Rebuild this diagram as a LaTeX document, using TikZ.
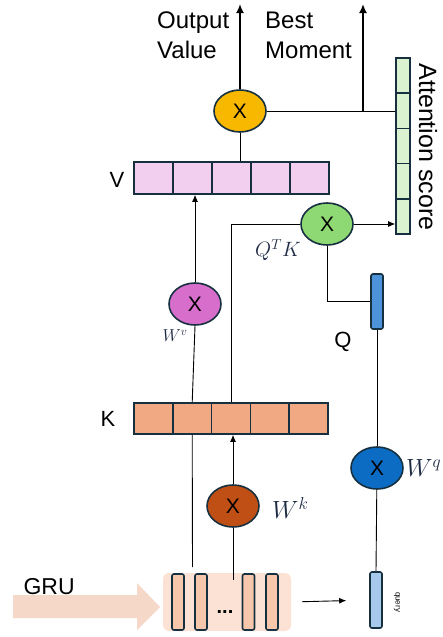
\documentclass[tikz,border=0pt]{standalone}
\usepackage{fontspec}
\setmainfont{Liberation Sans}
\usetikzlibrary{shapes.geometric, arrows.meta}

\definecolor{edge}{HTML}{17303F}
\definecolor{mathc}{HTML}{1E2A44}
\definecolor{goldX}{HTML}{F9B800}
\definecolor{greenX}{HTML}{8ED973}
\definecolor{pinkX}{HTML}{D86ECC}
\definecolor{brownX}{HTML}{C04F15}
\definecolor{blueX}{HTML}{0C6CC4}
\definecolor{vcell}{HTML}{F2CEEF}
\definecolor{kcell}{HTML}{F1A983}
\definecolor{acell}{HTML}{DAF2D0}
\definecolor{qbar}{HTML}{4D93D9}
\definecolor{querybar}{HTML}{A6C9EC}
\definecolor{grubg}{HTML}{FBE2D5}
\definecolor{grubar}{HTML}{F7C7AC}
\definecolor{gruarrow}{HTML}{F6D8C8}

\begin{document}
\begin{tikzpicture}[
    x=1pt, y=-1pt,
    mul/.style={ellipse, draw=edge, line width=1.6pt, minimum width=52pt, minimum height=42pt, inner sep=0pt, font=\fontsize{21}{24}\selectfont},
    cellV/.style={rectangle, draw=edge, line width=1.6pt, minimum width=39pt, minimum height=32pt, fill=vcell, inner sep=0pt},
    cellK/.style={rectangle, draw=edge, line width=1.6pt, minimum width=38.8pt, minimum height=31pt, fill=kcell, inner sep=0pt},
    cellA/.style={rectangle, draw=edge, line width=1.6pt, minimum width=14pt, minimum height=35.2pt, fill=acell, inner sep=0pt},
    vecbar/.style={rectangle, rounded corners=2pt, draw=edge, line width=1.6pt, minimum width=12pt, inner sep=0pt},
    lbl/.style={font=\fontsize{22}{26}\selectfont},
    mlbl/.style={text=mathc, inner sep=0pt},
    wire/.style={draw, line width=0.9pt},
    arr/.style={wire, -{Latex[length=7pt,width=6pt]}},
    outarr/.style={draw, line width=1.8pt, -{Latex[length=9pt,width=8pt]}}
]
\useasboundingbox (0,0) rectangle (442,637);

% --- GRU input ---
\fill[gruarrow] (13,595) -- (137,595) -- (137,583) -- (160,607) -- (137,630) -- (137,618) -- (13,618) -- cycle;
\node[anchor=west, font=\fontsize{23}{26}\selectfont] (gruLabel) at (20,587) {GRU};
\node[rectangle, rounded corners=6pt, fill=grubg, minimum width=128pt, minimum height=58pt] (gruBox) at (227,602) {};
\node[vecbar, fill=grubar, minimum height=56pt] (h1) at (178,602) {};
\node[vecbar, fill=grubar, minimum height=56pt] (h2) at (201,602) {};
\node[vecbar, fill=grubar, minimum height=56pt] (h3) at (248.5,602) {};
\node[vecbar, fill=grubar, minimum height=56pt] (h4) at (272,602) {};
\node[anchor=base, font=\bfseries\fontsize{20}{24}\selectfont] (gruDots) at (225,613) {...};

% --- query ---
\node[vecbar, fill=querybar, minimum height=56pt] (query) at (376,600) {};
\node[rotate=-90, font=\fontsize{8}{9}\selectfont] (queryLabel) at (397,602) {query};
\draw[arr, shorten <=11pt, shorten >=23pt] (gruBox.east) -- (query.west);

% --- K ---
\foreach \i in {1,...,5}
    \node[cellK] (K\i) at ({134+19.4+38.8*(\i-1)}, 418.5) {};
\node[lbl] (kLabel) at (108,419) {K};
\node[mul, fill=brownX] (mulK) at (233,506) {X};
\node[mlbl, anchor=west, font=\fontsize{24}{28}\selectfont] (wk) at (272,508) {$W^k$};
\coordinate (tapK) at (233,580);
\coordinate (tapV) at (192.5,567);
\draw[wire] (tapK) -- (mulK);
\draw[arr] (mulK) -- (mulK |- K3.south);
\draw[wire] (tapV) -- (K2.south);

% --- Q ---
\node[mul, fill=blueX] (mulQ) at (377,468) {X};
\node[mlbl, anchor=west, font=\fontsize{24}{28}\selectfont] (wq) at (406,468) {$W^q$};
\node[vecbar, fill=qbar, minimum height=55pt] (Q) at (377,301.5) {};
\node[lbl] (qLabel) at (343,342) {Q};
\draw[wire] (query.north) -- (mulQ);
\draw[wire] (mulQ) -- (Q.south);

% --- V ---
\node[mul, fill=pinkX] (mulV) at (195,304) {X};
\node[mlbl, font=\fontsize{18}{22}\selectfont] (wv) at (175,336) {$W^v$};
\foreach \i in {1,...,5}
    \node[cellV] (V\i) at ({134+19.5+39*(\i-1)}, 178) {};
\node[lbl] (vLabel) at (117,180) {V};
\draw[wire] (K2.north) -- (mulV |- mulV.south);
\draw[arr] (mulV) -- (mulV |- V2.south);

% --- Q^T K ---
\node[mul, fill=greenX] (mulQK) at (327,224) {X};
\node[mlbl, font=\fontsize{20}{24}\selectfont] (qtk) at (278,250) {$Q^TK$};
\draw[wire] (mulQK.south) |- (Q.west);
\draw[wire] (mulQK.west) -| (K3.north);

% --- Attention score ---
\foreach \i in {1,...,5}
    \node[cellA] (A\i) at (403, {58+17.6+35.2*(\i-1)}) {};
\node[rotate=-90, font=\fontsize{25}{28}\selectfont] (attLabel) at (428,147) {Attention score};
\draw[arr] (mulQK.east) -- (mulQK.east -| A5.west);

% --- Outputs ---
\node[mul, fill=goldX] (mulO) at (240,111) {X};
\draw[wire] (mulO.south) -- (mulO.south |- V3.north);
\draw[wire] (mulO.east) -- (mulO.east -| A2.west);
\coordinate (outTop) at (240,4);
\coordinate (bestFoot) at (363,111);
\coordinate (bestTop) at (363,4);
\draw[outarr] (mulO.north) -- (outTop);
\draw[outarr] (bestFoot) -- (bestTop);
\node[align=left, anchor=north west, inner sep=0pt, font=\fontsize{24}{30}\selectfont] (outLabel) at (157,12) {Output\\Value};
\node[align=left, anchor=north west, inner sep=0pt, font=\fontsize{24}{30}\selectfont] (bestLabel) at (265,12) {Best\\Moment};
\end{tikzpicture}
\end{document}
